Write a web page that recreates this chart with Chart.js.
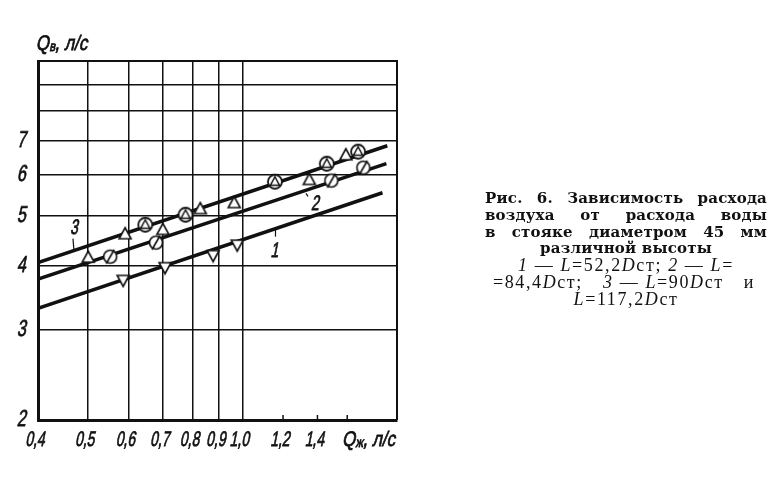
<!DOCTYPE html>
<html>
<head>
<meta charset="utf-8">
<script src="https://cdn.jsdelivr.net/npm/chart.js@4.4.1/dist/chart.umd.min.js"></script>
<style>
  html, body { margin: 0; padding: 0; background: #fff; }
  #wrap { position: relative; width: 772px; height: 488px; overflow: hidden; }
  #chart { position: absolute; left: 0; top: 0; }
  #caption { position: absolute; left: 485px; top: 190px; width: 282px; color: #111; }
  #caption .b { font: bold 15px "DejaVu Serif", serif; letter-spacing: 0.2px; line-height: 16.8px; white-space: nowrap; }
  #caption .r { font: 18px "Liberation Serif", serif; letter-spacing: 1.6px; line-height: 16.8px; white-space: nowrap; }
  #caption .j { text-align: justify; text-align-last: justify; }
  #caption .c { text-align: center; }
  #caption .f { display: flex; justify-content: space-between; margin: 0 12px 0 8px; }
  #caption i { font-style: italic; }
</style>
</head>
<body>
<div id="wrap">
  <canvas id="chart" width="772" height="488"></canvas>
  <div id="caption">
    <div class="b j">Рис. 6. Зависимость расхода</div>
    <div class="b j">воздуха от расхода воды</div>
    <div class="b j">в стояке диаметром 45 мм</div>
    <div class="b c">различной высоты</div>
    <div class="r c"><i>1</i> — <i>L</i>=52,2<i>D</i>ст; <i>2</i> — <i>L</i>=</div>
    <div class="r f"><span>=84,4<i>D</i>ст;</span><span><i>3</i> — <i>L</i>=90<i>D</i>ст</span><span>и</span></div>
    <div class="r c"><i>L</i>=117,2<i>D</i>ст</div>
  </div>
</div>
<script>
// axis ticks
const xTicks = [0.4, 0.5, 0.6, 0.7, 0.8, 0.9, 1.0, 1.2, 1.4, 1.6];
const xLabeled = [0.4, 0.5, 0.6, 0.7, 0.8, 0.9, 1.0, 1.2, 1.4];
const xSmallTicks = [1.2, 1.4, 1.6];
const yTicks = [2, 3, 4, 5, 6, 7, 8, 9, 10];
const yLabeled = [2, 3, 4, 5, 6, 7];

// 1 - L=52,2Dст
const x1 = [0.586, 0.707, 0.877, 0.977];
const y1 = [3.74, 3.96, 4.18, 4.38];
// 2 - L=84,4Dст
const x2 = [0.553, 0.679, 1.49, 1.72];
const y2 = [4.16, 4.43, 5.85, 6.20];
// 3 - L=90Dст
const x3a = [0.501, 0.591, 0.70, 0.828, 0.964, 1.35, 1.59];
const y3a = [4.15, 4.61, 4.70, 5.16, 5.30, 5.88, 6.57];
// 3 - L=117,2Dст
const x3b = [0.647, 0.775, 1.157, 1.46, 1.68];
const y3b = [4.80, 5.02, 5.82, 6.31, 6.66];

// fitted lines (end points)
const fit1X = [0.4, 1.874];
const fit1Y = [3.30, 5.54];
const fit2X = [0.4, 1.907];
const fit2Y = [3.76, 6.31];
const fit3X = [0.4, 1.915];
const fit3Y = [4.05, 6.84];

const curveLabels = ['1', '2', '3'];
const curveLabelX = [1.16, 1.33, 0.47];

const ink = '#111';
const pts = (xs, ys) => xs.map((x, i) => ({ x, y: ys[i] }));

const marker = (size, draw) => {
  const c = document.createElement('canvas');
  c.width = size;
  c.height = size;
  const g = c.getContext('2d');
  g.strokeStyle = ink;
  g.fillStyle = '#fff';
  g.lineWidth = 1.6;
  draw(g);
  return c;
};
const triDown = marker(16, (g) => {
  g.beginPath(); g.moveTo(2, 3); g.lineTo(14, 3); g.lineTo(8, 14); g.closePath();
  g.fill(); g.stroke();
});
const triUp = marker(16, (g) => {
  g.beginPath(); g.moveTo(2, 13); g.lineTo(14, 13); g.lineTo(8, 2); g.closePath();
  g.fill(); g.stroke();
});
const circSlash = marker(18, (g) => {
  g.beginPath(); g.arc(9, 9, 6.5, 0, Math.PI * 2); g.fill(); g.stroke();
  g.beginPath(); g.moveTo(5, 16); g.lineTo(13, 2); g.stroke();
});
const circTri = marker(18, (g) => {
  g.lineWidth = 1.8;
  g.beginPath(); g.arc(9, 9, 7, 0, Math.PI * 2); g.fill(); g.stroke();
  g.lineWidth = 1.5;
  g.beginPath(); g.moveTo(9, 4); g.lineTo(4.5, 12.5); g.lineTo(13.5, 12.5); g.closePath(); g.stroke();
});

const markerSet = (data, style) => ({
  data, pointStyle: style, pointRadius: 6, showLine: false,
});
const lineSet = (data) => ({
  data, showLine: true, pointRadius: 0, borderColor: ink, borderWidth: 3.5,
});

// narrow, slanted "draftsman" lettering
const slanted = (ctx, parts, x, y, align, sx = 0.66) => {
  let w = 0;
  parts.forEach((p) => {
    ctx.font = `${p.size}px "Liberation Sans", sans-serif`;
    p.w = ctx.measureText(p.t).width * sx;
    w += p.w;
  });
  let cx = align === 'right' ? x - w : align === 'center' ? x - w / 2 : x;
  parts.forEach((p) => {
    ctx.save();
    ctx.font = `${p.size}px "Liberation Sans", sans-serif`;
    ctx.textAlign = 'left';
    ctx.textBaseline = 'middle';
    ctx.translate(cx, y + (p.dy || 0));
    ctx.transform(sx, 0, -0.2, 1, 0, 0);
    ctx.lineWidth = 0.8;
    ctx.strokeStyle = ink;
    ctx.fillText(p.t, 0, 0);
    ctx.strokeText(p.t, 0, 0);
    ctx.restore();
    cx += p.w;
  });
};

const framePlugin = {
  id: 'frame',
  beforeDatasetsDraw(chart) {
    const { ctx, chartArea: a, scales } = chart;
    ctx.save();
    ctx.strokeStyle = ink;
    ctx.lineWidth = 2;
    ctx.beginPath();
    ctx.moveTo(a.left, a.top); ctx.lineTo(a.right, a.top); ctx.lineTo(a.right, a.bottom);
    ctx.stroke();
    ctx.lineWidth = 1.5;
    xSmallTicks.forEach((v) => {
      const px = scales.x.getPixelForValue(v);
      ctx.beginPath(); ctx.moveTo(px, a.bottom); ctx.lineTo(px, a.bottom - 5); ctx.stroke();
    });
    ctx.restore();
  },
  afterDatasetsDraw(chart) {
    const { ctx, chartArea: a, scales } = chart;
    ctx.save();
    ctx.fillStyle = ink;
    ctx.strokeStyle = ink;

    // tick labels
    xLabeled.forEach((v) => {
      const t = v.toFixed(1).replace('.', ',');
      slanted(ctx, [{ t, size: 21 }], scales.x.getPixelForValue(v) - 2, a.bottom + 20, 'center');
    });
    yLabeled.forEach((v) => {
      slanted(ctx, [{ t: String(v), size: 23 }], 27, scales.y.getPixelForValue(v), 'right', 0.7);
    });

    // axis titles
    slanted(ctx, [{ t: 'Q', size: 21 }, { t: 'в', size: 14, dy: 3 }, { t: ', л/с', size: 21 }], 37, 44, 'left', 0.8);
    slanted(ctx, [{ t: 'Q', size: 21 }, { t: 'ж', size: 14, dy: 3 }, { t: ', л/с', size: 21 }],
      scales.x.getPixelForValue(1.6) - 4, a.bottom + 20, 'left', 0.8);

    // curve numbers with leaders
    const fits = [[fit1X, fit1Y], [fit2X, fit2Y], [fit3X, fit3Y]];
    curveLabels.forEach((t, i) => {
      const [fx, fy] = fits[i];
      const xv = curveLabelX[i];
      // log-log line through the two end points
      const k = Math.log(fy[1] / fy[0]) / Math.log(fx[1] / fx[0]);
      const yv = fy[0] * Math.pow(xv / fx[0], k);
      const px = scales.x.getPixelForValue(xv);
      const py = scales.y.getPixelForValue(yv);
      ctx.strokeStyle = ink;
      ctx.lineWidth = 1.2;
      if (i === 2) {
        ctx.beginPath(); ctx.moveTo(px, py); ctx.lineTo(px - 1, py - 12); ctx.stroke();
        slanted(ctx, [{ t, size: 21 }], px + 1, py - 22, 'center');
      } else if (i === 1) {
        ctx.beginPath(); ctx.moveTo(px, py + 3); ctx.lineTo(px + 2, py + 6); ctx.stroke();
        slanted(ctx, [{ t, size: 21 }], px + 10, py + 14, 'center');
      } else {
        ctx.beginPath(); ctx.moveTo(px, py); ctx.lineTo(px, py + 8); ctx.stroke();
        slanted(ctx, [{ t, size: 21 }], px, py + 23, 'center');
      }
    });
    ctx.restore();
  },
};

new Chart(document.getElementById('chart'), {
  type: 'scatter',
  data: {
    datasets: [
      markerSet(pts(x1, y1), triDown),
      markerSet(pts(x2, y2), circSlash),
      markerSet(pts(x3a, y3a), triUp),
      markerSet(pts(x3b, y3b), circTri),
      lineSet(pts(fit1X, fit1Y)),
      lineSet(pts(fit2X, fit2Y)),
      lineSet(pts(fit3X, fit3Y)),
    ],
  },
  options: {
    responsive: false,
    animation: false,
    layout: { padding: { top: 61, right: 375, left: 0, bottom: 0 } },
    plugins: { legend: { display: false }, tooltip: { enabled: false } },
    scales: {
      x: {
        type: 'logarithmic',
        min: 0.4,
        max: 2.0,
        afterBuildTicks: (s) => { s.ticks = xTicks.map((v) => ({ value: v })); },
        afterFit: (s) => { s.height = 68; },
        ticks: { display: false, autoSkip: false },
        grid: {
          drawTicks: false,
          lineWidth: 1.5,
          color: (c) => (c.tick && c.tick.value <= 1.0001 ? ink : 'rgba(0,0,0,0)'),
        },
        border: { display: true, color: ink, width: 3 },
      },
      y: {
        type: 'logarithmic',
        min: 2,
        max: 10,
        afterBuildTicks: (s) => { s.ticks = yTicks.map((v) => ({ value: v })); },
        afterFit: (s) => { s.width = 38; },
        ticks: { display: false, autoSkip: false },
        grid: { drawTicks: false, lineWidth: 1.5, color: ink },
        border: { display: true, color: ink, width: 3 },
      },
    },
  },
  plugins: [framePlugin],
});
</script>
</body>
</html>
